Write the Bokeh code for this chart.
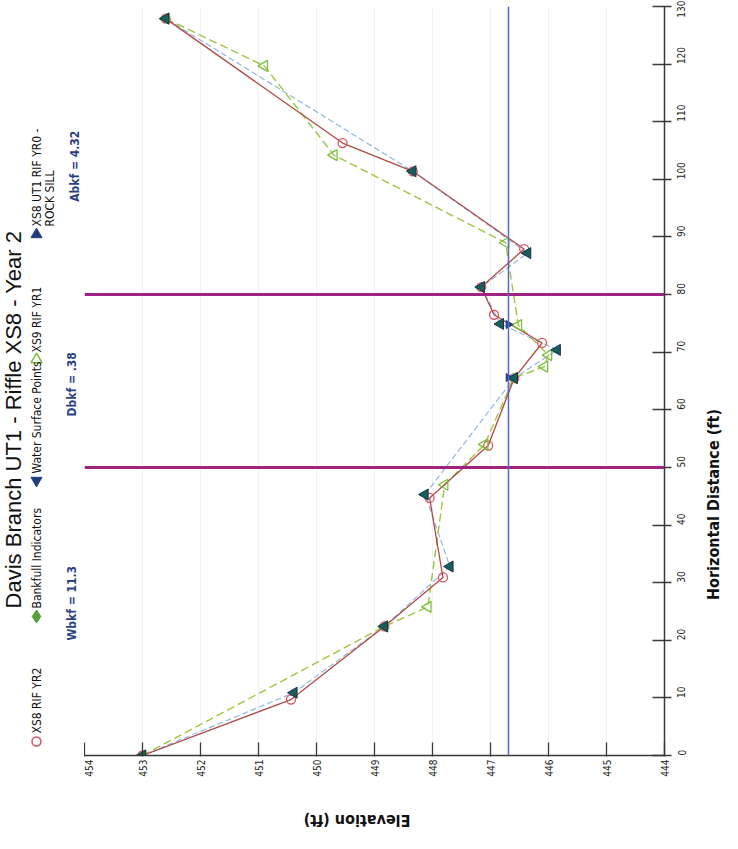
import math
from bokeh.plotting import figure
from bokeh.layouts import row, column
from bokeh.models import Range1d, LinearAxis, Span, FixedTicker, Grid
from bokeh.core.properties import value
from bokeh.embed import file_html
from bokeh.resources import INLINE

# ---------------- data ----------------
elev_ticks = [454, 453, 452, 451, 450, 449, 448, 447, 446, 445, 444]
dist_ticks = [0, 10, 20, 30, 40, 50, 60, 70, 80, 90, 100, 110, 120, 130]

# XS8 RIF YR2 (open red circles, solid line)
yr2_dist = [0, 9.7, 22.4, 30.9, 44.7, 53.8, 65.5, 71.6, 76.5, 81.3, 87.9, 101.4, 106.3, 127.9]
yr2_elev = [453.0, 450.44, 448.83, 447.82, 448.05, 447.04, 446.59, 446.11, 446.94, 447.16, 446.42, 448.34, 449.55, 452.6]

# XS9 RIF YR1 (open green triangles, dashed line)
yr1_dist = [0, 22.4, 25.8, 47.0, 54.0, 65.5, 67.5, 69.5, 74.7, 89.0, 104.2, 119.7, 127.9]
yr1_elev = [453.0, 448.83, 448.08, 447.79, 447.1, 446.6, 446.07, 446.0, 446.52, 446.74, 449.7, 450.9, 452.6]

# XS8 UT1 RIF YR0 - ROCK SILL (filled dark triangles)
yr0_dist = [0, 10.9, 22.4, 32.8, 45.3, 65.5, 70.4, 74.9, 81.3, 87.2, 101.4, 127.9]
yr0_elev = [453.0, 450.39, 448.83, 447.70, 448.13, 446.59, 445.85, 446.83, 447.16, 446.36, 448.34, 452.6]

# Water surface points
ws_dist = [65.6, 74.8]
ws_elev = [446.69, 446.69]

water_surface_elev = 446.69
bankfull_stations = [50, 80]

title_text = "Davis Branch UT1 - Riffle XS8 - Year 2"
legend_labels = ["XS8 RIF YR2", "Bankfull Indicators", "Water Surface Points", "XS9 RIF YR1", "XS8 UT1 RIF YR0 -"]
legend_label_line2 = "ROCK SILL"
notes = ["Wbkf  =  11.3", "Dbkf  =  .38", "Abkf  =  4.32"]
x_title = "Elevation (ft)"
y_title = "Horizontal Distance (ft)"

# ---------------- styles ----------------
NARROW = "'Liberation Sans Narrow', 'Arial Narrow', 'DejaVu Sans Condensed', sans-serif"
SANS = "'Liberation Sans', Arial, sans-serif"
RED = "#d4585f"
REDLINE = "#b04a44"
GREEN = "#7dbf3f"
GREENLINE = "#9cc640"
DARK = "#17605a"
NAVY = "#213c7c"
LBLUE = "#8fb7df"
VERT = math.pi / 2


def blank(w, h, xr, yr):
    f = figure(width=w, height=h, x_range=Range1d(*xr), y_range=Range1d(*yr),
               output_backend="svg", toolbar_location=None,
               x_axis_location=None, y_axis_location=None, min_border=0)
    f.outline_line_color = None
    f.grid.grid_line_color = None
    return f


# ---------------- main chart ----------------
p = figure(width=613, height=797, x_range=Range1d(454, 444), y_range=Range1d(0, 130),
           output_backend="svg", toolbar_location=None,
           x_axis_location=None, y_axis_location=None,
           min_border_left=0, min_border_right=33, min_border_top=6, min_border_bottom=42)
p.outline_line_color = None
p.grid.grid_line_color = None

xa = LinearAxis(ticker=FixedTicker(ticks=elev_ticks), major_label_orientation=VERT,
                major_tick_in=13, major_tick_out=1, minor_tick_line_color=None,
                axis_line_color="#3a3a3a", axis_line_width=1.5,
                major_tick_line_color="#3a3a3a", major_tick_line_width=1.3,
                major_label_text_font=NARROW, major_label_text_font_size="10px",
                major_label_standoff=3, major_label_text_color="#222222")
p.add_layout(xa, "below")

ya = LinearAxis(ticker=FixedTicker(ticks=dist_ticks), major_label_orientation=VERT,
                major_tick_in=12, major_tick_out=7, minor_tick_line_color=None,
                axis_line_color="#3a3a3a", axis_line_width=1.5,
                major_tick_line_color="#3a3a3a", major_tick_line_width=1.3,
                major_label_text_font=NARROW, major_label_text_font_size="10px",
                major_label_standoff=10, major_label_text_color="#222222")
p.add_layout(ya, "right")

p.add_layout(Grid(dimension=0, ticker=xa.ticker, grid_line_color="#f1f1f1"))

for st in bankfull_stations:
    p.add_layout(Span(location=st, dimension="width", line_color="#9e2383", line_width=3))
p.add_layout(Span(location=water_surface_elev, dimension="height", line_color="#5466cc", line_width=1.5))

p.line(yr0_elev, yr0_dist, line_color=LBLUE, line_dash="6 3", line_width=1.2)
p.line(yr1_elev, yr1_dist, line_color=GREENLINE, line_dash="8 4", line_width=1.4)
p.line(yr2_elev, yr2_dist, line_color=REDLINE, line_width=1.3)
p.scatter(yr2_elev, yr2_dist, marker="circle", size=9, fill_color="white", fill_alpha=0.0,
          line_color=RED, line_width=1.3)
p.scatter(yr1_elev, yr1_dist, marker="triangle", angle=VERT, size=11, fill_color=None,
          line_color=GREEN, line_width=1.3)
p.scatter(ws_elev, ws_dist, marker="inverted_triangle", angle=VERT, size=8,
          fill_color=NAVY, line_color=NAVY)
p.scatter(yr0_elev, yr0_dist, marker="triangle", angle=VERT, size=11,
          fill_color=DARK, line_color="#1a2f4f", line_width=1)

# ---------------- left margin: title, legend, notes (page-pixel coords) ----------------
left = blank(84, 833, (8, 92), (841, 8))
left.text(x=[21], y=[427], text=[title_text], angle=VERT, text_align="center",
          text_baseline="middle", text_font=value(SANS), text_font_size="22px", text_color="#111111")

leg_sym_y = [749, 624, 488, 367, 242]
leg_txt_y = [741, 616, 481, 360, 234]
left.scatter(x=[44], y=[leg_sym_y[0]], marker="circle", size=9, fill_color=None, line_color=RED, line_width=1.5)
left.scatter(x=[44], y=[leg_sym_y[1]], marker="diamond", size=13, fill_color="#56a03c", line_color="#56a03c")
left.scatter(x=[44], y=[leg_sym_y[2]], marker="inverted_triangle", size=11, fill_color=NAVY, line_color=NAVY)
left.scatter(x=[44], y=[leg_sym_y[3]], marker="triangle", size=11, fill_color=None, line_color=GREEN, line_width=1.5)
left.scatter(x=[44], y=[leg_sym_y[4]], marker="triangle", size=11, fill_color=NAVY, line_color=NAVY)
left.text(x=[44] * 5, y=leg_txt_y, text=legend_labels, angle=VERT, text_align="left",
          text_baseline="middle", text_font=value(NARROW), text_font_size="12px", text_color="#111111")
left.text(x=[57], y=[leg_txt_y[4]], text=[legend_label_line2], angle=VERT, text_align="left",
          text_baseline="middle", text_font=value(NARROW), text_font_size="12px", text_color="#111111")

left.text(x=[79, 79, 82], y=[607, 388, 170], text=notes, angle=VERT, text_align="center",
          text_baseline="middle", text_font=value(NARROW), text_font_size="12px",
          text_font_style="bold", text_color="#2c4282")

# ---------------- bottom and right margins: axis titles ----------------
bottom = blank(613, 36, (92, 705), (841, 805))
bottom.text(x=[380], y=[828], text=[x_title], angle=math.pi, text_align="center",
            text_baseline="middle", text_font=value(NARROW), text_font_size="16px",
            text_font_style="bold", text_color="#111111")

right = blank(25, 833, (705, 730), (841, 8))
right.text(x=[721], y=[512], text=[y_title], angle=VERT, text_align="center",
           text_baseline="middle", text_font=value(NARROW), text_font_size="16px",
           text_font_style="bold", text_color="#111111")

page = row(left, column(p, bottom), right)
open("out.html", "w").write(file_html(page, INLINE))
